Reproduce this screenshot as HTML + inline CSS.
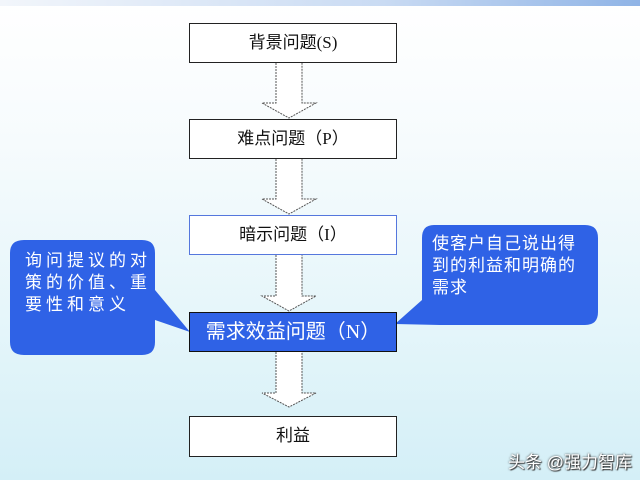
<!DOCTYPE html>
<html><head><meta charset="utf-8"><style>
html,body{margin:0;padding:0}
body{width:640px;height:480px;position:relative;overflow:hidden;background:linear-gradient(180deg,#ffffff 0%,#f6fbfd 30%,#e6f6fa 65%,#d4eff7 100%);font-family:"Liberation Sans","Noto Sans CJK SC",sans-serif}
.top{position:absolute;left:0;top:0;width:640px;height:6px;background:linear-gradient(90deg,#f2f6fb,#c9dbf3 60%,#8fb4e6)}
.box{position:absolute;left:189px;width:206px;height:38px;border:1px solid #222;background:#fff;text-align:center;line-height:38px;font-size:17px;color:#111;font-family:"Liberation Serif","Noto Sans CJK SC",serif}
.t{position:absolute;color:#fff;font-size:17px;line-height:22px;word-break:break-all}
.wm{position:absolute;left:508px;top:448px;font-size:17px;color:#fff;text-shadow:0 0 2px #333,1px 1px 1px #333}
</style></head><body>
<div class="top"></div>
<svg width="640" height="480" style="position:absolute;left:0;top:0">
<g fill="#fff" stroke="#555" stroke-width="1">
<path d="M276 63V103H262L289 118L316 103H302V63" stroke-dasharray="2 1"/>
<path d="M276 159V199H262L289 214L316 199H302V159" stroke-dasharray="2 1"/>
<path d="M276 255V296H262L289 311L316 296H302V255" stroke-dasharray="2 1"/>
<path d="M276 352V393H262L289 407L316 393H302V352" stroke-dasharray="2 1"/>
</g>
<path d="M24 240H142Q155 240 155 253V290L190 332L155 320V342Q155 355 142 355H24Q10 355 10 342V253Q10 240 24 240Z" fill="#2f62e6"/>
<path d="M434 225H585Q598 225 598 238V312Q598 325 585 325H440L395 324L422 300V238Q422 225 434 225Z" fill="#2f62e6"/>
</svg>
<div class="box" style="top:23px">背景问题(S)</div>
<div class="box" style="top:119px">难点问题（P）</div>
<div class="box" style="top:215px;border-color:#5577dd">暗示问题（I）</div>
<div class="box" style="top:312px;background:#2f62e6;color:#fff;font-size:20px;border-color:#111">需求效益问题（N）</div>
<div class="box" style="top:416px;height:39px">利益</div>
<div class="t" style="left:25px;top:250px;width:128px;letter-spacing:4px">询问提议的对策的价值、重要性和意义</div>
<div class="t" style="left:432px;top:233px;width:146px;letter-spacing:1px">使客户自己说出得到的利益和明确的需求</div>
<div class="wm">头条 @强力智库</div>
</body></html>
